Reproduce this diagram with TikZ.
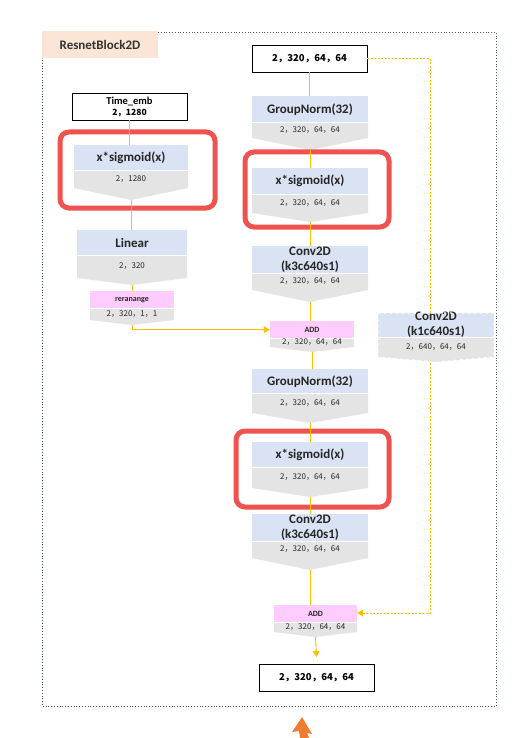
\documentclass[tikz,border=0pt]{standalone}
\usepackage{fontspec}
\setmainfont{Carlito}
\newfontfamily\cjk{Noto Sans CJK SC}
\usetikzlibrary{arrows.meta}
\definecolor{bluef}{HTML}{DAE3F3}
\definecolor{grayf}{HTML}{E4E4E4}
\definecolor{pinkf}{HTML}{FFCCFF}
\definecolor{peach}{HTML}{FBE5D6}
\definecolor{redr}{HTML}{EF5350}
\definecolor{gold}{HTML}{FFC000}
\definecolor{framec}{HTML}{44546A}
\definecolor{orng}{HTML}{ED7D31}
\tikzset{
  lbl/.style={inner sep=0pt, font=\bfseries\fontsize{13}{15}\selectfont, align=center, text=black!85},
  smalllbl/.style={font=\bfseries\fontsize{8}{9}\selectfont},
  dimtxt/.style={inner sep=0pt, font=\cjk\fontsize{8}{9}\selectfont, text=black!85},
  blackbox/.style={draw=black, line width=0.8pt, fill=white, minimum width=115pt, minimum height=27pt, inner sep=0pt, align=center},
  redbox/.style={draw=redr, line width=5pt, rounded corners=9pt},
  link/.style={draw=gold, line width=0.9pt},
  arr/.style={link, -{Triangle[length=6pt,width=7pt]}},
  skip/.style={draw=gold, line width=1pt, dash pattern=on 2pt off 1.5pt},
  curfill/.style={fill=bluef},
  curlbl/.style={},
}
\newcommand{\bluemode}{\tikzset{curfill/.style={fill=bluef}, curlbl/.style={}}}
\newcommand{\pinkmode}{\tikzset{curfill/.style={fill=pinkf}, curlbl/.style={smalllbl}}}
% #1 name, #2 cx, #3 half width, #4 ytop, #5 ymid, #6 ysides, #7 ytip, #8 label, #9 dims
\newcommand{\lyr}[9]{%
  \path[curfill] ({#2-#3},#4) rectangle ({#2+#3},#5);
  \fill[grayf] ({#2-#3},#5) -- ({#2+#3},#5) -- ({#2+#3},#6) -- (#2,#7) -- ({#2-#3},#6) -- cycle;
  \draw[white, line width=0.8pt] ({#2-#3},#5) -- ({#2+#3},#5);
  \node[minimum width={2*#3*1pt}, minimum height={(#5-#4)*1pt}, inner sep=0pt, anchor=north] (#1) at (#2,#4) {};
  \node[lbl, curlbl] at (#1.center) {#8};
  \node[dimtxt] (#1d) at (#2,{(#5+#6)/2}) {#9};
  \coordinate (#1t) at (#2,#7);
}
\begin{document}
\begin{tikzpicture}[x=1pt,y=-1pt]
\useasboundingbox (0,0) rectangle (528,738);
\fill[white] (0,0) rectangle (528,738);

% frame
\draw[framec, line width=0.8pt, dotted] (158,32) -- (496,32) -- (496,706) -- (42,706) -- (42,58);
\fill[peach] (42,31) rectangle (158,58);
\node[lbl, text=black!80] (title) at (100,45) {ResnetBlock2D};

\node[blackbox, font=\cjk\bfseries\fontsize{9.5}{11}\selectfont] (in) at (309.5,58.5) {2，320，64，64};
\coordinate (s1) at (430,58.5);
\coordinate (s2) at (430,613);

% left column
\node[blackbox, font=\bfseries\fontsize{10.5}{11}\selectfont] (temb) at (129.5,106.5) {Time\_emb\\{\cjk\bfseries\fontsize{8.5}{10}\selectfont 2，1280}};
\bluemode
\lyr{sigA}{131}{57}{145}{170}{188}{200}{x*sigmoid(x)}{2，1280}
\lyr{lin}{132}{55}{230}{255}{278}{285}{Linear}{2，320}
\pinkmode
\lyr{rer}{132}{42}{291}{308}{320}{325}{reranange}{2，320，1，1}
\bluemode

% right column
\lyr{gnA}{310}{58}{96}{122}{138}{150}{GroupNorm(32)}{2，320，64，64}
\lyr{sigB}{310}{58}{168}{194}{213}{222}{x*sigmoid(x)}{2，320，64，64}
\lyr{convA}{310}{58}{246}{273}{290}{302}{Conv2D\\(k3c640s1)}{2，320，64，64}
\pinkmode
\lyr{addA}{312}{42}{321}{338}{347}{352}{ADD}{2，320，64，64}
\bluemode
\lyr{gnB}{310}{58}{369}{393}{413}{423}{GroupNorm(32)}{2，320，64，64}
\lyr{sigC}{310}{58}{442}{467}{488}{497}{x*sigmoid(x)}{2，320，64，64}
\lyr{convB}{310}{58}{514}{541}{558}{570}{Conv2D\\(k3c640s1)}{2，320，64，64}
\pinkmode
\lyr{addB}{315.5}{41.5}{605}{622}{632}{637}{ADD}{2，320，64，64}
\bluemode

\node[blackbox, font=\cjk\bfseries\fontsize{9.5}{11}\selectfont] (out) at (316.5,677.5) {2，320，64，64};
\coordinate (outend) at (316.5,657);

% skip path
\draw[skip, -{Triangle[length=6pt,width=7pt]}] (in.east) -- (s1) -- (s2) -- (addB.east |- s2);

% k1 conv (over the skip line)
\lyr{convK}{436}{58}{313}{337}{357}{362}{Conv2D\\(k1c640s1)}{2，640，64，64}
\draw[white, line width=1.2pt, dash pattern=on 2pt off 4pt] (378,313) -- (494,313) -- (494,357) -- (436,362) -- (378,357) -- cycle;

% red highlight boxes
\draw[redbox] (60,132) rectangle (215,208);
\draw[redbox] (245,152) rectangle (389,227);
\draw[redbox] (236,431) rectangle (389,507);

% connectors
\draw[link] (temb.south) -- (sigA.north -| temb.south);
\draw[link] (sigAt) -- (lin.north -| sigAt);
\draw[link] (lint) -- (rer.north);
\draw[arr] (rert) |- (addA.west);
\draw[link] (in.south) -- (gnA.north -| in.south);
\draw[link] (gnAt) -- (sigB.north);
\draw[link] (sigBt) -- (convA.north);
\draw[link] (convAt) -- (addA.north -| convAt);
\draw[link] (addAt) -- (gnB.north -| addAt);
\draw[link] (gnBt) -- (sigC.north);
\draw[link] (sigCt) -- (convB.north);
\draw[link] (convBt) -- (convBt |- addB.north);
\draw[arr] (addBt) -- (outend);

% orange arrow at the bottom edge
\fill[orng] (302,717) -- (312,734) -- (307,733) -- (309,738) -- (300,738) -- (299,731) -- (292,732) -- cycle;
\end{tikzpicture}
\end{document}
